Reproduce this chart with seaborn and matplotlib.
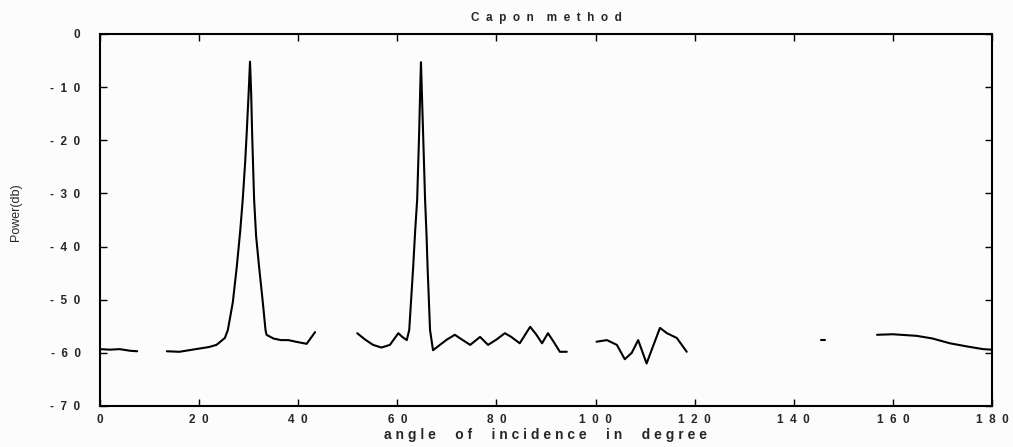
import numpy as np
import pandas as pd
import seaborn as sns
import matplotlib
matplotlib.use("Agg")
import matplotlib.pyplot as plt

# ---- data (angle in degree, power in dB); NaN = no trace visible
angle = [0, 2, 4, 6, 7.5, 10,
         13.5, 16, 18, 20, 22, 23.5,
         25.2, 25.8, 26.8, 27.6, 28.3, 28.8, 29.3, 29.6, 30.0, 30.27, 30.5, 30.7, 30.9, 31.1,
         31.5, 32.1, 32.8, 33.4, 33.6, 35, 36.5, 38, 39.5, 41.7, 43.4, 47,
         51.9, 53.5, 55.1, 56.8, 58.5, 60.2, 61.0,
         61.9, 62.4, 63.2, 63.6, 64.0, 64.4, 64.6, 64.77, 64.95, 65.2, 65.6, 65.9, 66.1, 66.6, 67.2,
         68.6, 70, 71.6, 73.2, 74.7, 76.7, 78.3, 80, 81.7, 83, 84.7, 86.8, 88, 89.2, 90.4, 91.6,
         92.8, 94.2, 97,
         100.2, 102.3, 104.3, 105.9, 107.3, 108.6, 110.3, 111.7, 113, 114.4, 116.4, 118.4, 130,
         145.5, 146.2, 150,
         156.8, 160, 164.8, 168, 171.5, 175, 178.2, 180]
power = [-59.3, -59.4, -59.3, -59.6, -59.7, np.nan,
         -59.7, -59.8, -59.5, -59.2, -58.9, -58.5,
         -57.2, -55.7, -50.5, -43.8, -37, -31.2, -24, -18.7, -11, -5.2, -11, -18.7, -25, -31.2,
         -38, -43.8, -50, -55.7, -56.6, -57.3, -57.6, -57.6, -57.9, -58.3, -56.1, np.nan,
         -56.3, -57.5, -58.5, -59.0, -58.5, -56.3, -57.0,
         -57.6, -55.7, -43.8, -37, -31.2, -18.7, -11, -5.3, -11, -18.7, -31.2, -38, -43.8, -55.7, -59.5,
         -58.5, -57.5, -56.6, -57.6, -58.5, -57.0, -58.5, -57.5, -56.3, -57.0, -58.2, -55.1, -56.5, -58.2, -56.3, -58.0,
         -59.8, -59.8, np.nan,
         -57.9, -57.6, -58.5, -61.2, -60.0, -57.6, -62.0, -58.5, -55.3, -56.3, -57.2, -59.8, np.nan,
         -57.6, -57.6, np.nan,
         -56.6, -56.5, -56.8, -57.3, -58.2, -58.8, -59.3, -59.4]

x_ticks = [0, 20, 40, 60, 80, 100, 120, 140, 160, 180]
x_ticklabels = ["0", "2  0", "4  0", "6  0", "8  0", "1  0  0", "1  2  0", "1  4  0", "1  6  0", "1  8  0"]
y_ticks = [-70, -60, -50, -40, -30, -20, -10, 0]
y_ticklabels = ["-  7  0", "-  6  0", "-  5  0", "-  4  0", "-  3  0", "-  2  0", "-  1  0", "0"]
title_text = "C  a  p  o  n    m  e  t  h  o  d"
x_label = "a n g l e     o f     i n c i d e n c e     i n     d e g r e e"
y_label = "Power(db)"

sns.set_style("white")
plt.rcParams["font.family"] = ["Liberation Sans", "DejaVu Sans"]

fig = plt.figure(figsize=(10.13, 4.47), dpi=100, facecolor="#fcfcfc")
ax = fig.add_axes([100 / 1013, 1 - 406 / 447, 892 / 1013, 372 / 447])
ax.set_facecolor("#fcfcfc")

df = pd.DataFrame({"angle": angle, "power": power})
df["seg"] = df["power"].isna().cumsum()
df = df.dropna()
for s, part in df.groupby("seg"):
    sns.lineplot(data=part, x="angle", y="power", ax=ax, color="black",
                 linewidth=1.5, sort=False, estimator=None)

ax.set_xlim(0, 180)
ax.set_ylim(-70, 0)
ax.set_xticks(x_ticks)
ax.set_xticklabels(x_ticklabels, fontsize=8.5, fontweight="bold")
ax.set_yticks(y_ticks)
ax.set_yticklabels(y_ticklabels, fontsize=8.5, fontweight="bold")
ax.tick_params(direction="in", length=5, width=1, top=True, right=True,
               bottom=True, left=True, color="black")
ax.tick_params(axis="x", pad=6)
ax.tick_params(axis="y", pad=14)
for sp in ax.spines.values():
    sp.set_visible(True)
    sp.set_color("black")
    sp.set_linewidth(1.5)

ax.set_title(title_text, fontsize=8.5, fontweight="bold", pad=9)
ax.set_xlabel(x_label, fontsize=10, fontweight="bold", labelpad=1)
ax.set_ylabel(y_label, fontsize=9)
ax.yaxis.set_label_coords(-0.088, 0.52)

fig.savefig("out.png", dpi=100, facecolor=fig.get_facecolor())
